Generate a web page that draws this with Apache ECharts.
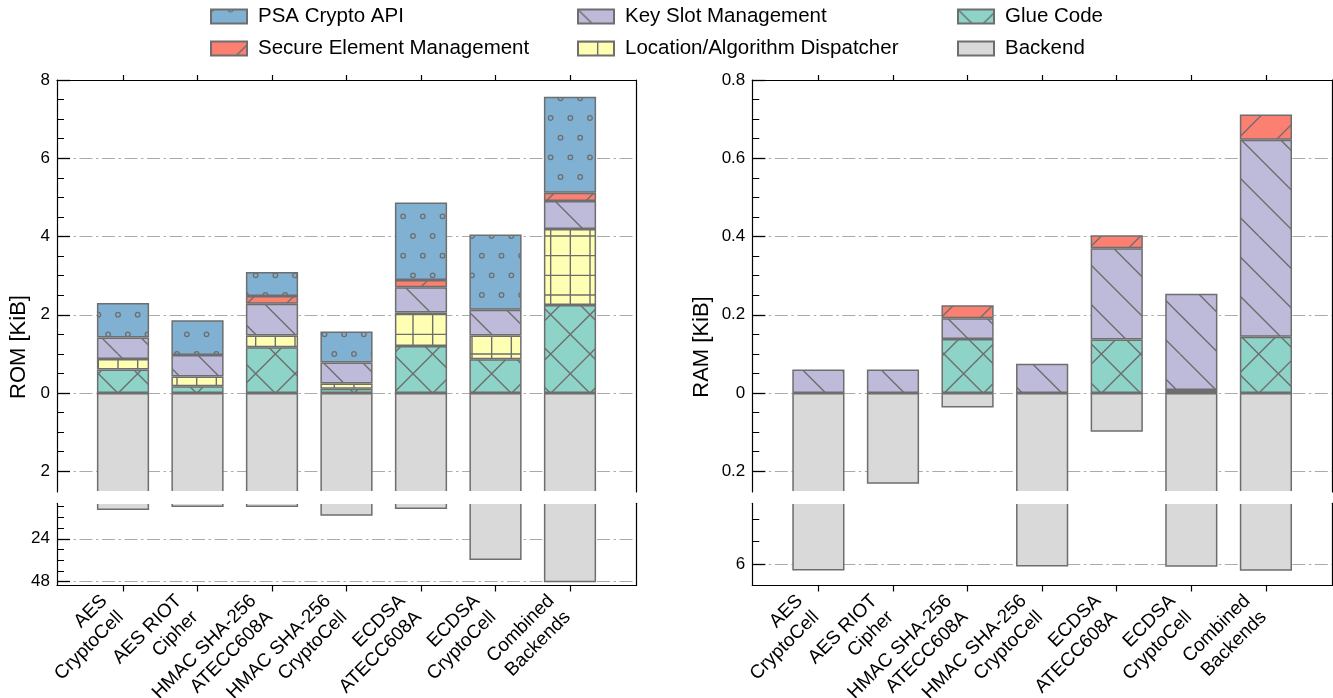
<!DOCTYPE html>
<html>
<head>
<meta charset="utf-8">
<script src="https://cdn.jsdelivr.net/npm/echarts@6/dist/echarts.min.js"></script>
<style>html,body{margin:0;padding:0;background:#fff}#c{width:1333px;height:698px}</style>
</head>
<body>
<div id="c"></div>
<script>
// ---------------- data ----------------
const categories = ['AES\nCryptoCell', 'AES RIOT\nCipher', 'HMAC SHA-256\nATECC608A', 'HMAC SHA-256\nCryptoCell', 'ECDSA\nATECC608A', 'ECDSA\nCryptoCell', 'Combined\nBackends'];

// ROM [KiB]
const romGlue     = [0.60, 0.17, 1.17, 0.11, 1.20, 0.86, 2.25];
const romDispatch = [0.27, 0.25, 0.30, 0.13, 0.86, 0.61, 1.94];
const romKeySlot  = [0.55, 0.55, 0.81, 0.54, 0.64, 0.66, 0.72];
const romSE       = [0, 0, 0.20, 0, 0.19, 0, 0.21];
const romPSA      = [0.88, 0.89, 0.61, 0.79, 1.98, 1.92, 2.45];
const romBackend  = [7.8, 6.2, 6.2, 11.1, 7.3, 36.0, 48.4];

// RAM [KiB]
const ramGlue     = [0, 0, 0.138, 0, 0.137, 0.008, 0.144];
const ramDispatch = [0, 0, 0, 0, 0, 0, 0];
const ramKeySlot  = [0.060, 0.060, 0.053, 0.075, 0.233, 0.246, 0.503];
const ramSE       = [0, 0, 0.033, 0, 0.033, 0, 0.065];
const ramPSA      = [0, 0, 0, 0, 0, 0, 0];
const ramBackend  = [6.44, 0.232, 0.037, 6.18, 0.099, 6.19, 6.47];

// tick values
const romUpperMajor = [-2, 0, 2, 4, 6, 8];
const romUpperMinor = [-1.5, -1, -0.5, 0.5, 1, 1.5, 2.5, 3, 3.5, 4.5, 5, 5.5, 6.5, 7, 7.5];
const romLowerMajor = [24, 48];
const romLowerMinor = [6, 12, 18, 30, 36, 42];
const ramUpperMajor = [-0.2, 0, 0.2, 0.4, 0.6, 0.8];
const ramUpperMinor = [-0.15, -0.1, -0.05, 0.05, 0.1, 0.15, 0.25, 0.3, 0.35, 0.45, 0.5, 0.55, 0.65, 0.7, 0.75];
const ramLowerMajor = [6];
const ramLowerMinor = [3, 4.5];

// ---------------- style ----------------
const FONT = "'Liberation Sans', Arial, sans-serif";
const EDGE = '#6e6e6e';
const BLACK = '#000';
const GRIDLINE = { color: '#ababab', width: 1.2, type: [13, 3.5, 2.5, 3.5] };

function hatch(bg, kind) {
  const S = 118;
  const cv = document.createElement('canvas');
  cv.width = S; cv.height = S;
  const g = cv.getContext('2d');
  g.fillStyle = bg; g.fillRect(0, 0, S, S);
  g.strokeStyle = EDGE; g.lineWidth = 1.4;
  const P = S / 3, Q = S / 6;
  g.beginPath();
  if (kind === '\\' || kind === 'x') for (let k = -3; k <= 3; k++) { g.moveTo(k * P, 0); g.lineTo(k * P + S, S); }
  if (kind === '/' || kind === 'x') for (let k = 0; k <= 6; k++) { g.moveTo(k * P, 0); g.lineTo(k * P - S, S); }
  if (kind === '+') for (let k = 0; k <= 6; k++) { g.moveTo(0, k * Q); g.lineTo(S, k * Q); g.moveTo(k * Q, 0); g.lineTo(k * Q, S); }
  g.stroke();
  if (kind === 'o') {
    g.lineWidth = 1.3;
    for (let j = 0; j <= 6; j++) {
      const off = (j % 2) ? Q / 2 : 0;
      for (let i = -1; i <= 6; i++) { g.beginPath(); g.arc(i * Q + off, j * Q, 2.3, 0, Math.PI * 2); g.stroke(); }
    }
  }
  return { image: cv, repeat: 'repeat' };
}

const layers = [
  { name: 'Glue Code', fill: '#8dd3c7', kind: 'x', rom: romGlue, ram: ramGlue },
  { name: 'Location/Algorithm Dispatcher', fill: '#ffffb3', kind: '+', rom: romDispatch, ram: ramDispatch },
  { name: 'Key Slot Management', fill: '#bebada', kind: '\\', rom: romKeySlot, ram: ramKeySlot },
  { name: 'Secure Element Management', fill: '#fb8072', kind: '/', rom: romSE, ram: ramSE },
  { name: 'PSA Crypto API', fill: '#80b1d3', kind: 'o', rom: romPSA, ram: ramPSA }
];
const BACKEND = 'Backend';
const BACKEND_FILL = '#d9d9d9';

const idx = categories.map((_, i) => i);
const X_MIN = -0.886, X_MAX = 6.886;

const panels = [
  { key: 'rom', label: 'ROM [KiB]', left: 57, right: 697, nameX: 19,
    upper: [-2.53, 8], lower: [4.09, 50.25],
    upMaj: romUpperMajor, upMin: romUpperMinor, loMaj: romLowerMajor, loMin: romLowerMinor, backend: romBackend },
  { key: 'ram', label: 'RAM [KiB]', left: 752.3, right: 1, nameX: 702,
    upper: [-0.253, 0.8], lower: [1.95, 7.45],
    upMaj: ramUpperMajor, upMin: ramUpperMinor, loMaj: ramLowerMajor, loMin: ramLowerMinor, backend: ramBackend }
];

const UP_TOP = 80, UP_BOT = 492, LO_TOP = 503.3, LO_BOT = 585.5;
const PLOT_W = 579.6;
const BAR_W = 0.7 * PLOT_W / (X_MAX - X_MIN);

const grids = [], xAxes = [], yAxes = [], series = [], graphics = [];
const axisLine = { show: true, onZero: false, lineStyle: { color: BLACK, width: 1.2 } };
const fmtAbs = v => String(Math.abs(v));
// data rows are [value, categoryIndex]; encode maps them to y / x so the stack runs on y
const toRows = (vals, sign) => vals.map((v, i) => [v ? sign * v : '-', i]);
const ENC = { x: 1, y: 0 };

panels.forEach((p, pi) => {
  const gU = pi * 2, gL = pi * 2 + 1;
  grids.push({ left: p.left, right: p.right, top: UP_TOP, height: UP_BOT - UP_TOP, containLabel: false, outerBoundsMode: 'none' });
  grids.push({ left: p.left, right: p.right, top: LO_TOP, height: LO_BOT - LO_TOP, containLabel: false, outerBoundsMode: 'none' });

  xAxes.push({ gridIndex: gU, type: 'value', min: X_MIN, max: X_MAX, position: 'top',
    axisLine, splitLine: { show: false },
    axisTick: { show: true, inside: false, length: 5, customValues: idx, lineStyle: { color: BLACK, width: 1.2 } },
    axisLabel: { show: false } });
  xAxes.push({ gridIndex: gL, type: 'value', min: X_MIN, max: X_MAX, position: 'bottom',
    axisLine, splitLine: { show: false },
    axisTick: { show: true, inside: false, length: 6, customValues: idx, lineStyle: { color: BLACK, width: 1.2 } },
    axisLabel: { show: true, customValues: idx, formatter: v => categories[Math.round(v)], rotate: 45,
      fontSize: 19, lineHeight: 23, fontFamily: FONT, color: BLACK, margin: 10, padding: [0, 15, 0, 0], hideOverlap: false } });

  const mkY = (gi, range, inverse, maj, min) => {
    yAxes.push({ gridIndex: gi, type: 'value', min: range[0], max: range[1], inverse, position: 'left',
      axisLine, splitLine: { show: true, lineStyle: GRIDLINE },
      axisTick: { show: true, inside: true, length: 13, customValues: maj, lineStyle: { color: BLACK, width: 1.3 } },
      axisLabel: { show: true, customValues: maj, formatter: fmtAbs, fontSize: 17, fontFamily: FONT, color: BLACK, margin: 7, hideOverlap: false } });
    yAxes.push({ gridIndex: gi, type: 'value', min: range[0], max: range[1], inverse, position: 'left',
      axisLine: { show: false, onZero: false }, splitLine: { show: false },
      axisTick: { show: true, inside: true, length: 7, customValues: min, lineStyle: { color: BLACK, width: 1 } },
      axisLabel: { show: false } });
    yAxes.push({ gridIndex: gi, type: 'value', min: range[0], max: range[1], inverse, position: 'right',
      axisLine, splitLine: { show: false }, axisTick: { show: false }, axisLabel: { show: false } });
  };
  mkY(gU, p.upper, false, p.upMaj, p.upMin);
  mkY(gL, p.lower, true, p.loMaj, p.loMin);

  layers.forEach(L => {
    series.push({ type: 'bar', name: L.name, xAxisIndex: gU, yAxisIndex: gU * 3, stack: 'S' + gU,
      barWidth: BAR_W, clip: true, animation: false, encode: ENC,
      itemStyle: { color: hatch(L.fill, L.kind), borderColor: EDGE, borderWidth: 1.5 },
      emphasis: { disabled: true },
      data: toRows(L[p.key], 1) });
  });
  series.push({ type: 'bar', name: BACKEND, xAxisIndex: gU, yAxisIndex: gU * 3, stack: 'S' + gU,
    barWidth: BAR_W, clip: true, animation: false, encode: ENC,
    itemStyle: { color: BACKEND_FILL, borderColor: EDGE, borderWidth: 1.5 }, emphasis: { disabled: true },
    data: toRows(p.backend, -1) });
  series.push({ type: 'bar', name: BACKEND, xAxisIndex: gL, yAxisIndex: gL * 3,
    barWidth: BAR_W, clip: true, animation: false, encode: ENC,
    itemStyle: { color: BACKEND_FILL, borderColor: EDGE, borderWidth: 1.5 }, emphasis: { disabled: true },
    data: toRows(p.backend, 1) });

  const gx = p.left + 1;
  const gw = (1333 - p.right - 1) - gx;
  graphics.push({ type: 'rect', z: 100, shape: { x: gx, y: UP_BOT - 0.9, width: gw, height: LO_TOP - UP_BOT + 1.7 },
    style: { fill: '#fff' }, silent: true });
  graphics.push({ type: 'text', z: 100, x: p.nameX, y: 347, rotation: Math.PI / 2,
    style: { text: p.label, fontSize: 22, fontFamily: FONT, fill: BLACK, align: 'center', verticalAlign: 'middle' } });
});

const legendBase = { orient: 'vertical', top: 6, padding: 0, itemWidth: 36, itemHeight: 14, itemGap: 11,
  icon: 'rect', selectedMode: false,
  textStyle: { fontSize: 20.5, fontFamily: FONT, color: BLACK, lineHeight: 20, padding: [0, 0, 0, 6] } };

const option = {
  animation: false,
  textStyle: { fontFamily: FONT },
  legend: [
    Object.assign({}, legendBase, { left: 210, data: ['PSA Crypto API', 'Secure Element Management'] }),
    Object.assign({}, legendBase, { left: 577, data: ['Key Slot Management', 'Location/Algorithm Dispatcher'] }),
    Object.assign({}, legendBase, { left: 957, data: ['Glue Code', 'Backend'] })
  ],
  grid: grids, xAxis: xAxes, yAxis: yAxes, series, graphic: graphics
};

const chart = echarts.init(document.getElementById('c'), null, { renderer: 'canvas' });
chart.setOption(option);
</script>
</body>
</html>
